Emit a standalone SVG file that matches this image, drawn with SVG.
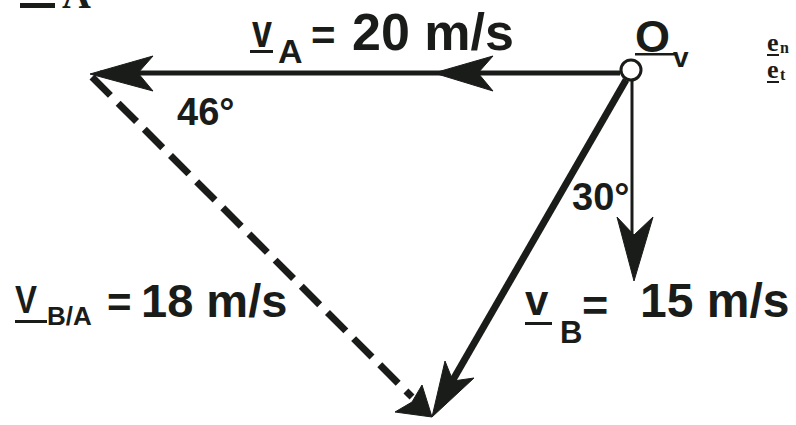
<svg xmlns="http://www.w3.org/2000/svg" width="796" height="425" viewBox="0 0 796 425">
<style>
.lbl{font-family:"Liberation Sans",Arial,sans-serif;font-weight:bold;fill:#1a1c1a}
.ser{font-family:"Liberation Serif","Times New Roman",serif;font-weight:bold;fill:#1a1c1a}
.ln{stroke:#1a1c1a;fill:none}
.ah{fill:#1a1c1a;stroke:#1a1c1a;stroke-width:1;stroke-linejoin:miter}
</style>
<rect width="796" height="425" fill="#ffffff"/>
<g id="fragment">
<rect x="20" y="3" width="35" height="5" fill="#1a1c1a"/>
<text class="ser" x="62" y="8" font-size="40" font-weight="normal">A</text>
</g>
<g id="connectors">
<line class="ln" x1="620" y1="73" x2="100" y2="73" stroke-width="5"/>
<polygon class="ah" points="434,73 493,56 478,73 493,91"/>
<polygon class="ah" points="90,74 153,56 138,73 153,91"/>
<line class="ln" x1="626" y1="80" x2="450" y2="385" stroke-width="7"/>
<polygon class="ah" points="432,417 445,361 453,381 474,378"/>
<line class="ln" x1="632" y1="81" x2="632" y2="240" stroke-width="3"/>
<polygon class="ah" points="634,281 617,217 634,235 653,217"/>
<line class="ln" x1="92" y1="77" x2="412" y2="397" stroke-width="7" stroke-dasharray="26 11"/>
<polygon class="ah" points="432,417 395,412 412,402 422,385"/>
</g>
<g id="node-O">
<circle cx="631" cy="70" r="10" fill="#ffffff" stroke="#1a1c1a" stroke-width="3"/>
<text class="lbl" x="635" y="52" font-size="45">O</text>
<rect x="635" y="53" width="40" height="2.5" fill="#1a1c1a"/>
<text class="lbl" x="673" y="67" font-size="28">v</text>
</g>
<g id="label-vA">
<text class="lbl" x="252" y="47" font-size="46" textLength="20" lengthAdjust="spacingAndGlyphs">v</text>
<rect x="250" y="50" width="23" height="3" fill="#1a1c1a"/>
<text class="lbl" x="278" y="63" font-size="34">A</text>
<text class="lbl" x="311" y="50" font-size="42">=</text>
<text class="lbl" x="352" y="50" font-size="52">20 m/s</text>
</g>
<g id="label-vB">
<text class="lbl" x="525" y="315" font-size="42">v</text>
<rect x="525" y="322" width="27" height="3" fill="#1a1c1a"/>
<text class="lbl" x="560" y="343" font-size="31">B</text>
<text class="lbl" x="582" y="321" font-size="45">=</text>
<text class="lbl" x="640" y="317" font-size="48">15 m/s</text>
</g>
<g id="label-vBA">
<text class="lbl" x="15" y="313" font-size="38" textLength="22" lengthAdjust="spacingAndGlyphs">V</text>
<rect x="15" y="320" width="32" height="3" fill="#1a1c1a"/>
<text class="lbl" x="47" y="325" font-size="26">B/A</text>
<text class="lbl" x="107" y="317" font-size="42">=</text>
<text class="lbl" x="141" y="317" font-size="47">18 m/s</text>
</g>
<g id="angles">
<text class="lbl" x="177" y="125" font-size="38">46°</text>
<text class="lbl" x="572" y="210" font-size="38">30°</text>
</g>
<g id="basis">
<text class="ser" x="767" y="51" font-size="26">e</text>
<rect x="767" y="54" width="12" height="2" fill="#1a1c1a"/>
<text class="ser" x="780" y="53" font-size="16" font-weight="normal">n</text>
<text class="ser" x="767" y="78" font-size="26">e</text>
<rect x="767" y="81" width="12" height="2" fill="#1a1c1a"/>
<text class="ser" x="780" y="80" font-size="16" font-weight="normal">t</text>
</g>
</svg>
